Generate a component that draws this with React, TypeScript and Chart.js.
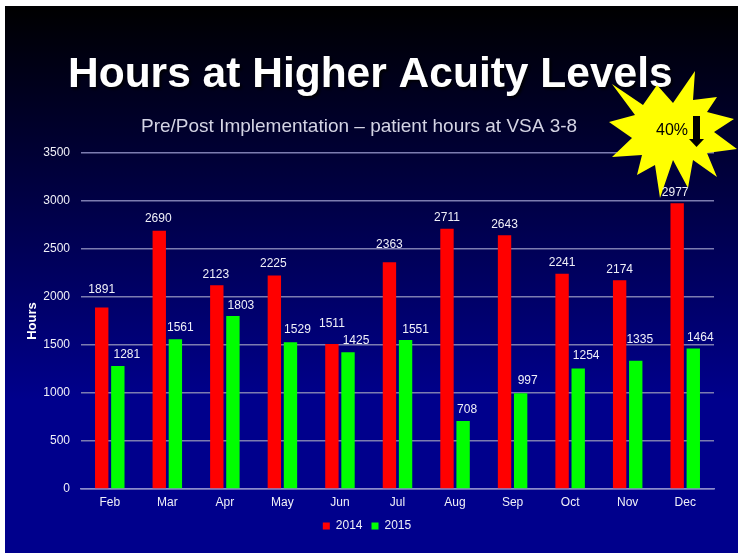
import React, { useEffect, useRef } from "react";
import { Chart, registerables } from "chart.js";

Chart.register(...registerables);

const months = ["Feb", "Mar", "Apr", "May", "Jun", "Jul", "Aug", "Sep", "Oct", "Nov", "Dec"];
const hours2014 = [1891, 2690, 2123, 2225, 1511, 2363, 2711, 2643, 2241, 2174, 2977];
const hours2015 = [1281, 1561, 1803, 1529, 1425, 1551, 708, 997, 1254, 1335, 1464];
const yMax = 3500;
const yStep = 500;
const titleText = "Hours at Higher Acuity Levels";
const subtitleText = "Pre/Post Implementation \u2013 patient hours at VSA 3-8";
const badgeText = "40%";

// Hand-placed label nudges of the original slide, relative to the top centre of each bar.
const nudge2014X = [0, -1, -1, -1, 0, 0, 0, 0, 0, 0, -2];
const nudge2014Y = [-18, -12, -11, -12, -20, -17, -11, -11, -11, -11, -11];
const nudge2015X = [9, 5, 8, 7, 8, 10, 4, 7, 8, 4, 7];
const nudge2015Y = [-11, -11, -10, -13, -12, -10, -11, -13, -13, -21, -11];

// Starburst outline in page pixels.
const star: [number, number][] = [
  [612, 84], [643, 105], [657, 85], [673, 103], [695, 71], [693, 100], [717, 97], [707, 112],
  [734, 119], [714, 132], [737, 149], [707, 153], [717, 177], [693, 160], [688, 188], [673, 160],
  [660, 198], [655, 165], [637, 175], [642, 155], [612, 157], [632, 138], [609, 122], [635, 115],
];

const slide = {
  id: "slide",
  beforeDraw(chart: any) {
    const { ctx, width, height } = chart;
    ctx.save();
    ctx.fillStyle = "#ffffff";
    ctx.fillRect(0, 0, width, height);
    const g = ctx.createLinearGradient(0, 6, 0, height);
    g.addColorStop(0, "#000000");
    g.addColorStop(0.72, "#00008c");
    g.addColorStop(1, "#00008c");
    ctx.fillStyle = g;
    ctx.fillRect(5, 6, width - 5, height - 6);
    ctx.textBaseline = "alphabetic";
    ctx.textAlign = "left";
    ctx.font = "bold 42.5px 'Liberation Sans'";
    ctx.shadowColor = "rgba(0,0,0,0.9)";
    ctx.shadowBlur = 3;
    ctx.shadowOffsetX = 2;
    ctx.shadowOffsetY = 2;
    ctx.fillStyle = "#ffffff";
    ctx.fillText(titleText, 68, 87);
    ctx.shadowColor = "transparent";
    ctx.shadowBlur = 0;
    ctx.shadowOffsetX = 0;
    ctx.shadowOffsetY = 0;
    ctx.font = "19px 'Liberation Sans'";
    ctx.fillStyle = "#d4d4e4";
    ctx.fillText(subtitleText, 141, 132);
    ctx.restore();
  },
  afterDatasetsDraw(chart: any) {
    const { ctx } = chart;
    ctx.save();
    ctx.fillStyle = "#ffff00";
    ctx.beginPath();
    star.forEach(([x, y], i) => (i ? ctx.lineTo(x, y) : ctx.moveTo(x, y)));
    ctx.closePath();
    ctx.fill();
    ctx.fillStyle = "#000000";
    ctx.font = "16px 'Liberation Sans'";
    ctx.textAlign = "center";
    ctx.textBaseline = "middle";
    ctx.fillText(badgeText, 672, 131);
    ctx.fillRect(693, 116, 7, 24);
    ctx.beginPath();
    ctx.moveTo(689, 139);
    ctx.lineTo(704, 139);
    ctx.lineTo(696.5, 147);
    ctx.closePath();
    ctx.fill();

    ctx.font = "12px 'Liberation Sans'";
    ctx.fillStyle = "#f0f0f8";
    const nudges = [
      [nudge2014X, nudge2014Y],
      [nudge2015X, nudge2015Y],
    ];
    chart.data.datasets.forEach((ds: any, d: number) => {
      chart.getDatasetMeta(d).data.forEach((bar: any, i: number) => {
        ctx.fillText(String(ds.data[i]), bar.x + nudges[d][0][i], bar.y + nudges[d][1][i]);
      });
    });
    ctx.restore();
  },
};

export default function App() {
  const ref = useRef<HTMLCanvasElement>(null);
  useEffect(() => {
    const chart = new Chart(ref.current!, {
      type: "bar",
      data: {
        labels: months,
        datasets: [
          { label: "2014", data: hours2014, backgroundColor: "#ff0000", barPercentage: 0.83, categoryPercentage: 0.56 },
          { label: "2015", data: hours2015, backgroundColor: "#00ff00", barPercentage: 0.83, categoryPercentage: 0.56 },
        ],
      },
      options: {
        responsive: false,
        animation: false,
        layout: { autoPadding: false, padding: { left: 20, right: 24, top: 153, bottom: 11 } },
        plugins: {
          title: { display: false },
          tooltip: { enabled: false },
          legend: {
            position: "bottom",
            labels: {
              color: "#f0f0f8",
              font: { family: "'Liberation Sans'", size: 12 },
              boxWidth: 7,
              boxHeight: 7,
              padding: 9,
            },
          },
        },
        scales: {
          x: {
            afterFit: (s: any) => { s.height = 22; },
            grid: { display: false, drawTicks: false },
            border: { color: "#8c8ccc", width: 1.5 },
            ticks: { color: "#f0f0f8", font: { family: "'Liberation Sans'", size: 12 }, padding: 6 },
          },
          y: {
            min: 0,
            max: yMax,
            afterFit: (s: any) => { s.width = 61; },
            grid: { color: "#7c7cb0", lineWidth: 1.5, drawTicks: false },
            border: { display: false },
            ticks: {
              stepSize: yStep,
              color: "#f0f0f8",
              font: { family: "'Liberation Sans'", size: 12 },
              padding: 11,
              callback: (v: any) => String(v),
            },
            title: {
              display: true,
              text: "Hours",
              color: "#ffffff",
              font: { family: "'Liberation Sans'", size: 13, weight: "bold" },
              padding: 5,
            },
          },
        },
      },
      plugins: [slide],
    } as any);
    return () => chart.destroy();
  }, []);
  return (
    <div style={{ position: "fixed", left: 0, top: 0, width: 738, height: 553 }}>
      <canvas ref={ref} width={738} height={553} style={{ display: "block", filter: "blur(0.5px)" }} />
    </div>
  );
}
